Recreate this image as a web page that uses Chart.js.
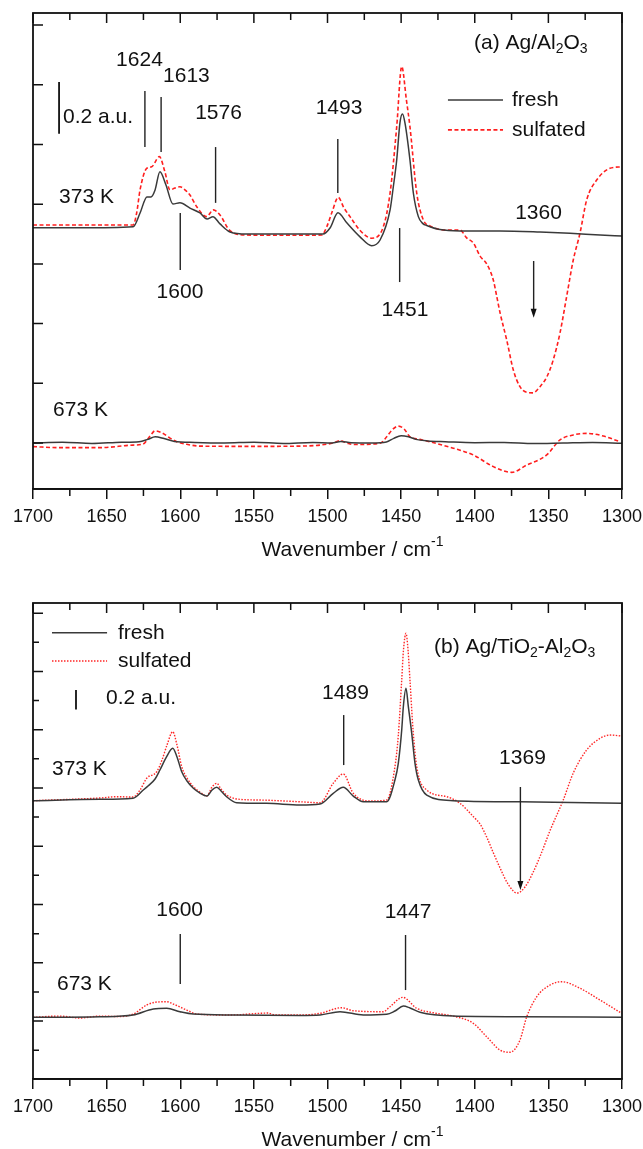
<!DOCTYPE html>
<html>
<head>
<meta charset="utf-8">
<script src="https://cdn.jsdelivr.net/npm/chart.js@4.4.1/dist/chart.umd.min.js"></script>
<style>
  html, body { margin: 0; padding: 0; background: #fff; }
  #wrap { position: relative; width: 643px; height: 1149px; }
  canvas { position: absolute; left: 0; }
  #panelA { top: 0; }
  #panelB { top: 574px; }
</style>
</head>
<body>
<div id="wrap">
  <canvas id="panelA" width="643" height="574"></canvas>
  <canvas id="panelB" width="643" height="575"></canvas>
</div>
<script>
const FONT = '"Liberation Sans", Arial, Helvetica, sans-serif';

// x axis (wavenumber, cm-1)
const xMajorTicks = [1700, 1650, 1600, 1550, 1500, 1450, 1400, 1350, 1300];
const xMinorTicks = [1675, 1625, 1575, 1525, 1475, 1425, 1375, 1325];

// (a) Ag/Al2O3, spectra offset in absorbance units
const wnA373Fresh = [1700, 1668, 1632, 1627.3, 1622.6, 1619.9, 1617.1, 1613.8, 1609.7, 1605, 1600.2, 1593.4, 1586.6, 1581.8, 1577.8, 1573, 1566.2, 1554.7, 1525.5, 1503.1, 1498.3, 1492.9, 1486.9, 1478.1, 1470, 1464.3, 1457.5, 1455.3, 1453, 1450.8, 1449.1, 1447.4, 1444, 1441.7, 1438.3, 1435.2, 1432.6, 1423.6, 1410, 1382.9, 1355.7, 1335.3, 1314.9, 1300];
const absA373Fresh = [0.829, 0.829, 0.833, 0.886, 0.948, 0.948, 0.975, 1.045, 0.994, 0.921, 0.925, 0.905, 0.886, 0.863, 0.872, 0.844, 0.813, 0.805, 0.805, 0.805, 0.828, 0.887, 0.848, 0.795, 0.760, 0.782, 0.898, 0.987, 1.090, 1.233, 1.267, 1.233, 1.090, 0.963, 0.872, 0.845, 0.838, 0.822, 0.817, 0.817, 0.813, 0.808, 0.801, 0.797];

const wnA373Sulf = [1700, 1632, 1629.6, 1627.3, 1622.8, 1619.4, 1614.2, 1610.4, 1607, 1603.6, 1600.2, 1596.8, 1593.4, 1588.8, 1582, 1577.6, 1573, 1566.2, 1554.9, 1525, 1504, 1500.5, 1496.9, 1492.7, 1488.8, 1484.7, 1478.1, 1470, 1462.1, 1457.5, 1453, 1449.6, 1446.4, 1444, 1439.4, 1434.9, 1430.4, 1419, 1410, 1405.5, 1400.9, 1396.4, 1391.9, 1387.4, 1385.1, 1382.8, 1378.3, 1373.8, 1369.3, 1364.7, 1360.4, 1355.7, 1351.1, 1346.7, 1342.1, 1337.6, 1333.1, 1328.5, 1324, 1317.2, 1308.2, 1300];
const absA373Sulf = [0.840, 0.840, 0.886, 0.975, 1.058, 1.064, 1.103, 1.044, 0.975, 0.982, 0.987, 0.975, 0.955, 0.910, 0.872, 0.898, 0.878, 0.818, 0.801, 0.800, 0.801, 0.833, 0.890, 0.946, 0.905, 0.872, 0.820, 0.789, 0.833, 0.963, 1.218, 1.450, 1.321, 1.218, 0.963, 0.859, 0.836, 0.820, 0.820, 0.790, 0.770, 0.720, 0.690, 0.628, 0.566, 0.501, 0.397, 0.281, 0.217, 0.195, 0.193, 0.217, 0.254, 0.320, 0.424, 0.564, 0.705, 0.809, 0.936, 1.013, 1.058, 1.064];

const wnA673Fresh = [1700, 1680, 1660, 1640, 1628, 1622, 1617, 1611, 1604, 1590, 1570, 1550, 1530, 1510, 1497, 1491, 1484, 1470, 1460, 1455, 1450, 1445, 1440, 1432, 1420, 1400, 1380, 1360, 1340, 1320, 1300];
const absA673Fresh = [0, 0.003, -0.002, 0.003, 0.005, 0.014, 0.024, 0.017, 0.006, 0.002, 0, 0.003, -0.002, 0.002, 0, 0.006, 0.001, 0, 0.004, 0.018, 0.028, 0.024, 0.014, 0.008, 0.005, 0.001, 0.002, -0.002, 0, 0.002, -0.001];

const wnA673Sulf = [1700, 1681.7, 1654.5, 1632.1, 1625.3, 1620.5, 1617.1, 1612.4, 1607, 1602.4, 1595.6, 1586.6, 1552.6, 1518.7, 1505.1, 1496.3, 1491.5, 1486.8, 1482.5, 1464.3, 1459.8, 1456.2, 1451.9, 1448, 1444, 1437.2, 1414.6, 1401, 1387.4, 1374.9, 1364.7, 1351.1, 1342.1, 1333.1, 1324, 1312.7, 1301.4];
const absA673Sulf = [-0.014, -0.018, -0.018, -0.008, -0.004, 0.027, 0.047, 0.039, 0.019, 0.005, -0.005, -0.012, -0.013, -0.012, -0.008, 0, 0.009, 0, -0.006, -0.001, 0.024, 0.050, 0.065, 0.054, 0.024, 0.014, -0.020, -0.046, -0.091, -0.113, -0.085, -0.046, 0.012, 0.031, 0.037, 0.027, 0.005];

// (b) Ag/TiO2-Al2O3
const wnB373Fresh = [1700, 1654.5, 1632.1, 1625.1, 1621.7, 1617.1, 1613.8, 1609.7, 1605.1, 1602.2, 1599, 1595.4, 1591.1, 1586.6, 1582, 1578.4, 1575.2, 1572.3, 1568.5, 1561.7, 1541.3, 1518.7, 1505.1, 1496.1, 1489.3, 1482.5, 1475.7, 1459.8, 1454.2, 1451.9, 1449.6, 1448.5, 1446.7, 1445.1, 1442.8, 1440.6, 1438.3, 1432.6, 1414.6, 1369.3, 1300.2];
const absB373Fresh = [2.269, 2.283, 2.294, 2.379, 2.423, 2.492, 2.585, 2.709, 2.808, 2.719, 2.567, 2.472, 2.397, 2.348, 2.317, 2.379, 2.407, 2.369, 2.310, 2.248, 2.242, 2.225, 2.235, 2.345, 2.407, 2.317, 2.258, 2.258, 2.482, 2.657, 2.997, 3.237, 3.426, 3.237, 2.963, 2.657, 2.482, 2.327, 2.269, 2.258, 2.242];

const wnB373Sulf = [1700, 1654.5, 1643, 1632.1, 1627.3, 1622.8, 1616, 1612.4, 1609, 1605.1, 1602.2, 1599, 1595.4, 1591.1, 1586.6, 1582, 1578.4, 1575.2, 1572.3, 1568.5, 1559.4, 1545.8, 1518.7, 1505.1, 1496.1, 1489.3, 1482.5, 1471.1, 1459.8, 1454.2, 1451.9, 1449.6, 1448.4, 1446.7, 1445.3, 1444, 1441.9, 1439.4, 1432.6, 1419, 1410, 1400.9, 1396.4, 1391.9, 1387.6, 1382.8, 1377.4, 1371.3, 1365.9, 1360.4, 1355, 1348.9, 1339.9, 1333.1, 1324, 1314.9, 1308.1, 1300.2];
const absB373Sulf = [2.269, 2.297, 2.310, 2.307, 2.379, 2.500, 2.567, 2.688, 2.842, 2.979, 2.842, 2.619, 2.503, 2.413, 2.358, 2.317, 2.410, 2.448, 2.389, 2.327, 2.283, 2.276, 2.258, 2.248, 2.448, 2.544, 2.345, 2.266, 2.276, 2.619, 2.945, 3.512, 3.821, 3.993, 3.821, 3.512, 2.997, 2.619, 2.379, 2.310, 2.242, 2.104, 2.029, 1.895, 1.740, 1.576, 1.411, 1.318, 1.380, 1.530, 1.720, 1.960, 2.276, 2.554, 2.791, 2.911, 2.945, 2.935];

const wnB673Fresh = [1700, 1654.5, 1632.1, 1618.3, 1609.2, 1600.2, 1591.1, 1564.2, 1518.7, 1505.1, 1491.5, 1475.7, 1459.8, 1454.2, 1448.5, 1444, 1437.2, 1414.6, 1369.3, 1300.2];
const absB673Fresh = [0.038, 0.044, 0.062, 0.124, 0.131, 0.096, 0.072, 0.062, 0.057, 0.062, 0.096, 0.062, 0.069, 0.103, 0.154, 0.134, 0.090, 0.051, 0.044, 0.038];

const wnB673Sulf = [1700, 1681.7, 1668.1, 1654.5, 1640.9, 1631.9, 1622.8, 1617.1, 1609.2, 1604.7, 1595.6, 1588.8, 1566.2, 1540.4, 1535.7, 1518.7, 1505.1, 1490.4, 1482.5, 1462.1, 1457.6, 1448.9, 1439.4, 1428.2, 1414.6, 1401, 1391.9, 1382.8, 1376.1, 1369.3, 1364.7, 1357.9, 1348.9, 1340.9, 1328.5, 1314.9, 1300.2];
const absB673Sulf = [0.038, 0.051, 0.031, 0.051, 0.046, 0.072, 0.165, 0.193, 0.199, 0.175, 0.113, 0.072, 0.062, 0.082, 0.062, 0.062, 0.079, 0.137, 0.106, 0.096, 0.147, 0.244, 0.131, 0.085, 0.051, -0.024, -0.162, -0.299, -0.322, -0.196, 0.044, 0.250, 0.371, 0.405, 0.337, 0.216, 0.079];

// left-axis tick positions (no labels are shown)
const yTicksA = [0, 0.23, 0.46, 0.69, 0.92, 1.15, 1.38, 1.61];
const yTicksB = [-0.3, 0, 0.3, 0.6, 0.9, 1.2, 1.5, 1.8, 2.1, 2.4, 2.7, 3.0, 3.3, 3.6, 3.9, 4.2];
const yMajorStepB = 0.6;

const SCALE_BAR = 0.2; // a.u.

const freshStyle = { borderColor: "#3a3a3a", borderWidth: 1.5, borderDash: [] };
const sulfStyleA = { borderColor: "#ff1e1e", borderWidth: 1.6, borderDash: [4, 2.5] };
const sulfStyleB = { borderColor: "#ff2626", borderWidth: 1.4, borderDash: [1.5, 1.5] };

function series(wn, abs) {
  return wn.map((w, i) => ({ x: w, y: abs[i] }));
}

function dataset(label, wn, abs, style) {
  return {
    label,
    data: series(wn, abs),
    fill: false,
    pointRadius: 0,
    cubicInterpolationMode: "monotone",
    ...style
  };
}

function partFont(kind) {
  return kind ? `14px ${FONT}` : `21px ${FONT}`;
}

// draws text runs with sub/superscripts
function drawParts(ctx, parts, x, y, align) {
  const widths = parts.map(([t, kind]) => {
    ctx.font = partFont(kind);
    return ctx.measureText(t).width;
  });
  const total = widths.reduce((s, w) => s + w, 0);
  let cx = align === "center" ? x - total / 2 : x;
  ctx.textAlign = "left";
  parts.forEach(([t, kind], i) => {
    ctx.font = partFont(kind);
    const dy = kind === "sub" ? 6 : kind === "sup" ? -8 : 0;
    ctx.fillText(t, cx, y + dy);
    cx += widths[i];
  });
}

const frameTicks = {
  id: "frameTicks",
  afterDraw(chart, args, opts) {
    const { ctx, chartArea: a, scales: { x, y } } = chart;
    ctx.save();
    ctx.strokeStyle = "#111";
    ctx.lineWidth = 1.8;
    ctx.strokeRect(a.left, a.top, a.right - a.left, a.bottom - a.top);
    ctx.lineWidth = 1.5;
    ctx.beginPath();
    xMajorTicks.forEach((v) => {
      const px = x.getPixelForValue(v);
      ctx.moveTo(px, a.top);
      ctx.lineTo(px, a.top + 10);
    });
    xMinorTicks.forEach((v) => {
      const px = x.getPixelForValue(v);
      ctx.moveTo(px, a.top);
      ctx.lineTo(px, a.top + 7);
      ctx.moveTo(px, a.bottom);
      ctx.lineTo(px, a.bottom + 7);
    });
    opts.yTicks.forEach((v) => {
      const py = y.getPixelForValue(v);
      const major = !opts.majorStep || Math.abs(v / opts.majorStep - Math.round(v / opts.majorStep)) < 1e-6;
      ctx.moveTo(a.left, py);
      ctx.lineTo(a.left + (major ? 10 : 6), py);
    });
    ctx.stroke();
    ctx.restore();
  }
};

const annotations = {
  id: "annotations",
  afterDatasetsDraw(chart, args, opts) {
    const { ctx, chartArea: a, scales: { x, y } } = chart;
    ctx.save();
    ctx.fillStyle = "#111";
    ctx.strokeStyle = "#222";
    ctx.lineWidth = 1.4;
    ctx.textBaseline = "middle";

    // band markers
    opts.markers.forEach((m) => {
      const px = x.getPixelForValue(m.wn);
      ctx.beginPath();
      ctx.moveTo(px, y.getPixelForValue(m.from));
      ctx.lineTo(px, y.getPixelForValue(m.to));
      ctx.stroke();
    });

    // negative band arrow
    const ar = opts.arrow;
    const apx = x.getPixelForValue(ar.wn);
    const ay0 = y.getPixelForValue(ar.from);
    const ay1 = y.getPixelForValue(ar.to);
    ctx.beginPath();
    ctx.moveTo(apx, ay0);
    ctx.lineTo(apx, ay1 - 6);
    ctx.stroke();
    ctx.beginPath();
    ctx.moveTo(apx - 3, ay1 - 9);
    ctx.lineTo(apx + 3, ay1 - 9);
    ctx.lineTo(apx, ay1);
    ctx.closePath();
    ctx.fill();

    // 0.2 a.u. scale bar
    const sb = opts.scaleBar;
    const sbx = x.getPixelForValue(sb.wn);
    ctx.lineWidth = 1.8;
    ctx.strokeStyle = "#111";
    ctx.beginPath();
    ctx.moveTo(sbx, y.getPixelForValue(sb.base));
    ctx.lineTo(sbx, y.getPixelForValue(sb.base + SCALE_BAR));
    ctx.stroke();

    // legend (first two datasets carry the styles)
    const lg = opts.legend;
    chart.data.datasets.slice(0, 2).forEach((ds, i) => {
      const py = y.getPixelForValue(lg.rows[i]);
      ctx.save();
      ctx.strokeStyle = ds.borderColor;
      ctx.lineWidth = ds.borderWidth;
      ctx.setLineDash(ds.borderDash || []);
      ctx.beginPath();
      ctx.moveTo(x.getPixelForValue(lg.lineFrom), py);
      ctx.lineTo(x.getPixelForValue(lg.lineTo), py);
      ctx.stroke();
      ctx.restore();
      drawParts(ctx, [[ds.label, ""]], x.getPixelForValue(lg.textAt), py, "left");
    });

    // labels
    opts.texts.forEach((t) => {
      drawParts(ctx, t.parts, x.getPixelForValue(t.wn), y.getPixelForValue(t.y), t.align || "center");
    });

    // axis title
    drawParts(ctx, [["Wavenumber / cm", ""], ["-1", "sup"]], (a.left + a.right) / 2 + 25, a.bottom + 61, "center");
    ctx.restore();
  }
};

function makeOptions(cfg) {
  return {
    responsive: false,
    animation: false,
    devicePixelRatio: 1,
    events: [],
    layout: { padding: { left: 33, right: 21, top: cfg.padTop, bottom: 0 } },
    plugins: {
      legend: { display: false },
      tooltip: { enabled: false },
      frameTicks: { yTicks: cfg.yTicks, majorStep: cfg.majorStep },
      annotations: cfg.annotations
    },
    scales: {
      x: {
        type: "linear",
        reverse: true,
        min: 1300,
        max: 1700,
        afterFit: (scale) => {
          scale.height = cfg.axisHeight;
          scale.paddingLeft = 0;
          scale.paddingRight = 0;
        },
        afterBuildTicks: (scale) => { scale.ticks = xMajorTicks.map((v) => ({ value: v })); },
        ticks: {
          autoSkip: false,
          maxRotation: 0,
          padding: 7,
          color: "#111",
          font: { family: FONT, size: 18 },
          callback: (v) => String(v)
        },
        grid: { drawOnChartArea: false, tickLength: 10, color: "#111", lineWidth: 1.5 },
        border: { display: true, color: "#111", width: 1.8 }
      },
      y: { type: "linear", display: false, min: cfg.yMin, max: cfg.yMax }
    }
  };
}

const sub = (t) => [t, "sub"];
const txt = (t) => [t, ""];

new Chart(document.getElementById("panelA"), {
  type: "line",
  data: {
    datasets: [
      dataset("fresh", wnA373Fresh, absA373Fresh, freshStyle),
      dataset("sulfated", wnA373Sulf, absA373Sulf, sulfStyleA),
      dataset("fresh 673 K", wnA673Fresh, absA673Fresh, freshStyle),
      dataset("sulfated 673 K", wnA673Sulf, absA673Sulf, sulfStyleA)
    ]
  },
  options: makeOptions({
    padTop: 13,
    axisHeight: 85,
    yMin: -0.1772,
    yMax: 1.6564,
    yTicks: yTicksA,
    majorStep: null,
    annotations: {
      markers: [
        { wn: 1624, from: 1.356, to: 1.140 },
        { wn: 1613, from: 1.333, to: 1.121 },
        { wn: 1576, from: 1.140, to: 0.925 },
        { wn: 1600, from: 0.886, to: 0.666 },
        { wn: 1493, from: 1.171, to: 0.963 },
        { wn: 1451, from: 0.828, to: 0.620 }
      ],
      arrow: { wn: 1360, from: 0.701, to: 0.482 },
      scaleBar: { wn: 1682.3, base: 1.191 },
      legend: { lineFrom: 1418.2, lineTo: 1380.8, textAt: 1374.7, rows: [1.321, 1.206] },
      texts: [
        { parts: [txt("(a) Ag/Al"), sub("2"), txt("O"), sub("3")], wn: 1400.5, y: 1.541, align: "left" },
        { parts: [txt("0.2 a.u.")], wn: 1679.6, y: 1.256, align: "left" },
        { parts: [txt("373 K")], wn: 1682.3, y: 0.948, align: "left" },
        { parts: [txt("673 K")], wn: 1686.4, y: 0.127, align: "left" },
        { parts: [txt("1624")], wn: 1627.7, y: 1.475 },
        { parts: [txt("1613")], wn: 1595.8, y: 1.414 },
        { parts: [txt("1576")], wn: 1574.0, y: 1.271 },
        { parts: [txt("1600")], wn: 1600.2, y: 0.582 },
        { parts: [txt("1493")], wn: 1492.2, y: 1.290 },
        { parts: [txt("1451")], wn: 1447.4, y: 0.512 },
        { parts: [txt("1360")], wn: 1356.7, y: 0.886 }
      ]
    }
  }),
  plugins: [frameTicks, annotations]
});

new Chart(document.getElementById("panelB"), {
  type: "line",
  data: {
    datasets: [
      dataset("fresh", wnB373Fresh, absB373Fresh, freshStyle),
      dataset("sulfated", wnB373Sulf, absB373Sulf, sulfStyleB),
      dataset("fresh 673 K", wnB673Fresh, absB673Fresh, freshStyle),
      dataset("sulfated 673 K", wnB673Sulf, absB673Sulf, sulfStyleB)
    ]
  },
  options: makeOptions({
    padTop: 29,
    axisHeight: 70,
    yMin: -0.597,
    yMax: 4.305,
    yTicks: yTicksB,
    majorStep: yMajorStepB,
    annotations: {
      markers: [
        { wn: 1489, from: 3.151, to: 2.636 },
        { wn: 1600, from: 0.896, to: 0.381 },
        { wn: 1447, from: 0.886, to: 0.319 }
      ],
      arrow: { wn: 1369, from: 2.410, to: 1.349 },
      scaleBar: { wn: 1670.8, base: 3.209 },
      legend: { lineFrom: 1687.1, lineTo: 1649.7, textAt: 1642.3, rows: [3.999, 3.708] },
      texts: [
        { parts: [txt("(b) Ag/TiO"), sub("2"), txt("-Al"), sub("2"), txt("O"), sub("3")], wn: 1427.7, y: 3.852, align: "left" },
        { parts: [txt("0.2 a.u.")], wn: 1650.4, y: 3.326, align: "left" },
        { parts: [txt("373 K")], wn: 1687.1, y: 2.595, align: "left" },
        { parts: [txt("673 K")], wn: 1683.7, y: 0.381, align: "left" },
        { parts: [txt("1489")], wn: 1487.8, y: 3.381 },
        { parts: [txt("1369")], wn: 1367.6, y: 2.709 },
        { parts: [txt("1600")], wn: 1600.4, y: 1.143 },
        { parts: [txt("1447")], wn: 1445.3, y: 1.123 }
      ]
    }
  }),
  plugins: [frameTicks, annotations]
});
</script>
</body>
</html>
